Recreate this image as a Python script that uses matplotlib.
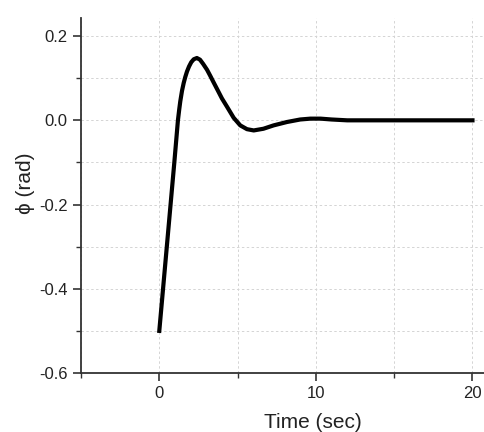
import matplotlib.pyplot as plt
from matplotlib.ticker import MultipleLocator

plt.rcParams['font.family'] = ['Liberation Sans', 'DejaVu Sans']

# values
time_s = [0, 0.24, 0.48, 0.72, 0.96, 1.19, 1.27, 1.34, 1.45, 1.56, 1.66, 1.77, 1.9, 2.04,
          2.2, 2.4, 2.6, 2.8, 3.05, 3.25, 3.47, 3.75, 4.0, 4.33, 4.75, 5.17, 5.6, 6.03,
          6.65, 7.3, 8.15, 9.0, 9.65, 10.3, 11.0, 12.0, 13.0, 15.0, 20.0]
phi_rad = [-0.5, -0.4, -0.3, -0.2, -0.1, 0.0, 0.025, 0.045, 0.07, 0.089, 0.103, 0.116, 0.128, 0.138,
           0.145, 0.148, 0.144, 0.134, 0.12, 0.106, 0.09, 0.07, 0.052, 0.032, 0.006, -0.012, -0.021, -0.024,
           -0.02, -0.012, -0.004, 0.002, 0.004, 0.004, 0.002, 0.0, 0.0, 0.0, 0.0]

fig = plt.figure(figsize=(4.85, 4.32), dpi=100)
ax = fig.add_axes([81/485, 59/432, 404/485, 355/432])

ax.plot(time_s, phi_rad, color="black", linewidth=3.0, solid_joinstyle="round")

ax.set_xlim(-5, 20.8)
ax.set_ylim(-0.6, 0.243)
ax.xaxis.set_major_locator(MultipleLocator(10))
ax.xaxis.set_minor_locator(MultipleLocator(5))
ax.yaxis.set_major_locator(MultipleLocator(0.2))
ax.yaxis.set_minor_locator(MultipleLocator(0.1))
ax.yaxis.set_major_formatter(plt.FuncFormatter(lambda v, p: f"{v:.1f}"))

ax.grid(True, which="both", color="#d4d4d4", linestyle=(0, (2.5, 2.5)), linewidth=0.7)
ax.set_axisbelow(True)

for side in ["top", "right"]:
    ax.spines[side].set_visible(False)
for side in ["left", "bottom"]:
    ax.spines[side].set_color("#333333")
    ax.spines[side].set_linewidth(1.3)

ax.tick_params(which="major", direction="out", length=6, width=1.2, color="#333333",
               labelsize=12, labelcolor="#222222")
ax.tick_params(which="minor", direction="out", length=3.5, width=1.0, color="#333333")

ax.set_xlabel("Time (sec)", fontsize=15, color="#222222")
ax.set_ylabel("ϕ (rad)", fontsize=15, color="#222222")
ax.xaxis.set_label_coords(0.575, -0.113)
ax.yaxis.set_label_coords(-0.114, 0.535)

fig.savefig("out.png", dpi=100)
